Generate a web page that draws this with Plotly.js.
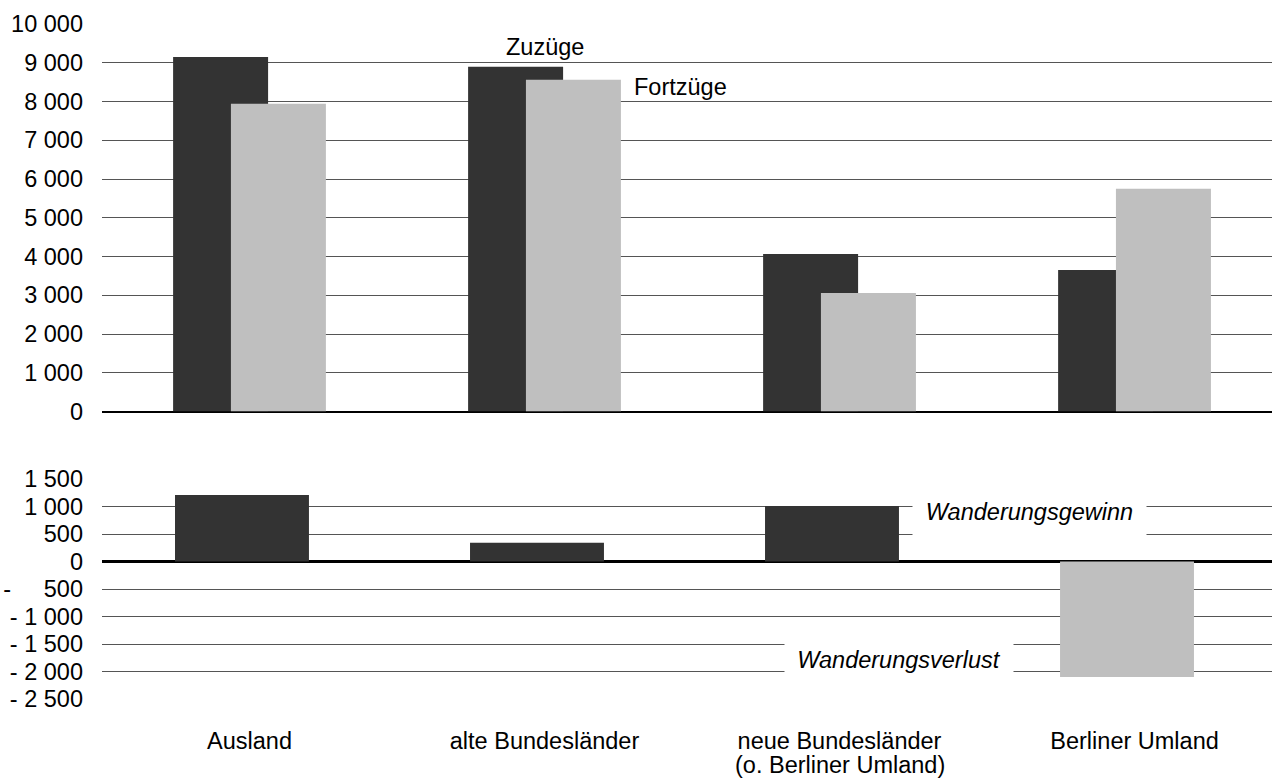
<!DOCTYPE html>
<html>
<head>
<meta charset="utf-8">
<script src="https://cdn.plot.ly/plotly-3.0.1.min.js"></script>
<style>html,body{margin:0;padding:0;background:#fff;}#chart{width:1272px;height:780px;}</style>
</head>
<body>
<div id="chart"></div>
<script>
// Data
const categories = ["Ausland", "alte Bundesländer", "neue Bundesländer", "Berliner Umland"];
const subLabels = ["", "", "(o. Berliner Umland)", ""];
const zuzuege = [9150, 8900, 4065, 3650];
const fortzuege = [7940, 8560, 3060, 5750];
const saldo = [1210, 340, 1010, -2100];

const topTickVals = [0, 1000, 2000, 3000, 4000, 5000, 6000, 7000, 8000, 9000, 10000];
const topTickText = ["0", "1 000", "2 000", "3 000", "4 000", "5 000", "6 000", "7 000", "8 000", "9 000", "10 000"];
const botTickVals = [1500, 1000, 500, 0, -500, -1000, -1500, -2000, -2500];
const botTickText = ["1 500", "1 000", "500", "0", "-\u00A0\u2007\u00A0\u00A0500", "- 1 000", "- 1 500", "- 2 000", "- 2 500"];

const DARK = "#333333";
const LIGHT = "#bfbfbf";
const GRID = "#555555";
const FONT = {family: "Liberation Sans, Arial, sans-serif", size: 23.5, color: "#000"};

const traces = [
  {type: "bar", name: "Zuzüge", x: categories, y: zuzuege, xaxis: "x", yaxis: "y",
   width: 0.322, offset: -0.259, marker: {color: DARK, line: {width: 0}}, hoverinfo: "skip"},
  {type: "bar", name: "Fortzüge", x: categories, y: fortzuege, xaxis: "x", yaxis: "y",
   width: 0.322, offset: -0.063, marker: {color: LIGHT, line: {width: 0}}, hoverinfo: "skip"},
  {type: "bar", name: "Saldo", x: categories, y: saldo, xaxis: "x2", yaxis: "y2",
   width: 0.454, offset: -0.2525, marker: {color: saldo.map(v => v >= 0 ? DARK : LIGHT), line: {width: 0}}, hoverinfo: "skip"}
];

const H = 780;
const annotations = [
  {text: "Zuzüge", xref: "x", yref: "y", x: 1.0, y: 9400, showarrow: false, font: FONT},
  {text: "Fortzüge", xref: "x", yref: "y", x: 1.46, y: 8375, showarrow: false, font: FONT},
  {text: "<i>Wanderungsgewinn</i>", xref: "x2", yref: "y2", x: 2.644, y: 909, showarrow: false, font: FONT,
   bgcolor: "#fff", width: 233, height: 56, borderpad: 0, valign: "middle"},
  {text: "<i>Wanderungsverlust</i>", xref: "x2", yref: "y2", x: 2.202, y: -1782, showarrow: false, font: FONT,
   bgcolor: "#fff", width: 228, height: 40, borderpad: 0, valign: "middle"}
];
subLabels.forEach((s, i) => {
  if (s) annotations.push({text: s, xref: "x2", yref: "paper", x: categories[i], y: 1 - 765 / H,
    yanchor: "middle", showarrow: false, font: FONT});
});

const layout = {
  width: 1272, height: 780,
  margin: {l: 102, r: 0, t: 0, b: 0},
  paper_bgcolor: "#fff", plot_bgcolor: "rgba(0,0,0,0)",
  showlegend: false,
  barmode: "overlay",
  font: FONT,
  xaxis: {domain: [0, 1], range: [-0.5, 3.466], type: "category", showticklabels: false,
          showgrid: false, zeroline: false, showline: false, ticks: "", anchor: "y"},
  yaxis: {domain: [1 - 411.5 / H, 1 - 24 / H], range: [0, 10000], tickvals: topTickVals, ticktext: topTickText,
          showgrid: true, gridcolor: GRID, gridwidth: 1, zeroline: true, zerolinecolor: "#000", zerolinewidth: 2,
          ticks: "", ticklabelstandoff: 18, tickfont: FONT, anchor: "x"},
  xaxis2: {domain: [0, 1], range: [-0.5, 3.466], type: "category", showgrid: false, zeroline: false,
           showline: false, ticks: "", tickfont: FONT, ticklabelstandoff: 25, anchor: "y2"},
  yaxis2: {domain: [1 - 699 / H, 1 - 479 / H], range: [-2500, 1500], tickvals: botTickVals, ticktext: botTickText,
           showgrid: true, gridcolor: GRID, gridwidth: 1, zeroline: true, zerolinecolor: "#000", zerolinewidth: 3,
           ticks: "", ticklabelstandoff: 18, tickfont: FONT, anchor: "x2"},
  annotations: annotations
};

Plotly.newPlot("chart", traces, layout, {staticPlot: true, displayModeBar: false});
</script>
</body>
</html>
